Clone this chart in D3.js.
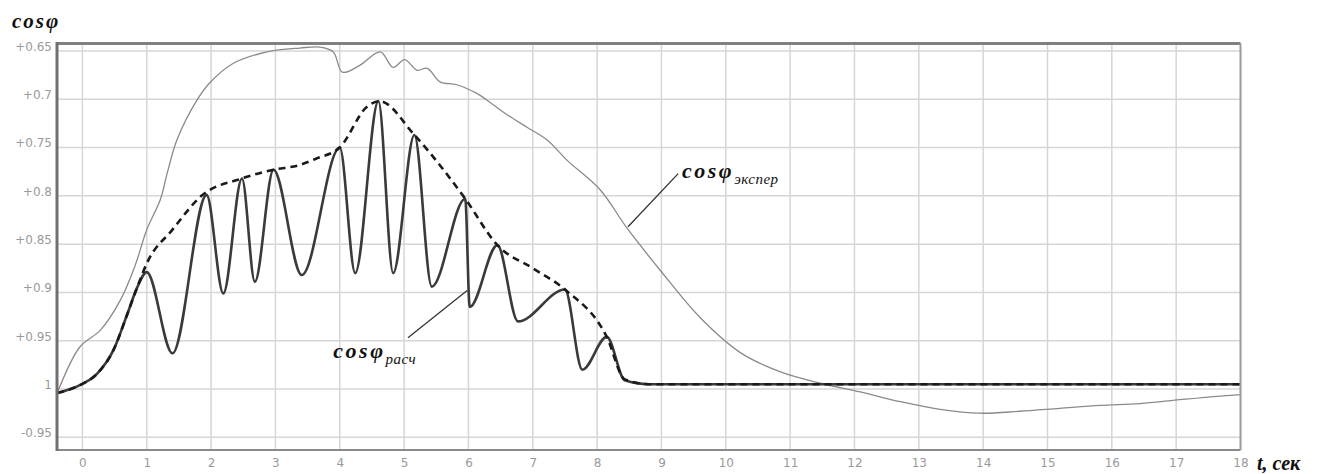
<!DOCTYPE html>
<html>
<head>
<meta charset="utf-8">
<script src="https://cdn.jsdelivr.net/npm/d3@7/dist/d3.min.js"></script>
<style>
  html, body { margin: 0; padding: 0; background: #fff; }
  svg { display: block; }
</style>
</head>
<body>
<svg id="chart" width="1324" height="474"></svg>
<script>
// ---- data (t in seconds, cosφ value; values > 1 are the leading side, shown as "-0.95") ----
const xTicks = [0,1,2,3,4,5,6,7,8,9,10,11,12,13,14,15,16,17,18];
const yTicks = [0.65,0.7,0.75,0.8,0.85,0.9,0.95,1.0,1.05];

const expT = [-0.39,-0.04,0.28,0.59,0.82,1.0,1.21,1.32,1.47,1.78,1.98,2.34,2.87,3.38,3.69,3.90,4.04,4.31,4.63,4.83,5.01,5.20,5.36,5.56,5.82,6.13,6.29,6.60,6.91,7.22,7.53,8.05,8.46,8.98,9.60,10.22,10.84,11.47,12.09,12.71,13.33,13.95,14.57,15.19,15.82,16.44,17.06,17.94,18.0];
const expV = [1.004,0.9565,0.939,0.908,0.872,0.835,0.804,0.776,0.742,0.701,0.683,0.663,0.651,0.647,0.646,0.651,0.672,0.665,0.651,0.667,0.659,0.670,0.668,0.682,0.685,0.694,0.701,0.716,0.729,0.742,0.763,0.794,0.833,0.877,0.926,0.962,0.982,0.994,1.003,1.013,1.021,1.025,1.023,1.020,1.017,1.015,1.011,1.006,1.006];

const calcT = [-0.39,-0.04,0.23,0.48,0.70,0.85,1.0,1.40,1.93,2.19,2.48,2.68,2.97,3.41,4.0,4.24,4.6,4.83,5.16,5.43,5.95,6.02,6.45,6.77,7.5,7.77,8.15,8.43,8.8,9.5,18];
const calcV = [1.004,0.996,0.984,0.960,0.922,0.895,0.879,0.963,0.799,0.901,0.782,0.889,0.773,0.882,0.750,0.880,0.702,0.880,0.737,0.894,0.803,0.915,0.851,0.930,0.897,0.980,0.946,0.991,0.995,0.995,0.995];

const envT = [-0.39,-0.04,0.23,0.48,0.70,0.85,1.0,1.4,1.85,2.48,2.97,3.38,3.65,4.0,4.42,4.62,5.16,5.95,6.45,7.0,7.5,8.15,8.43,8.8,18];
const envV = [1.004,0.996,0.984,0.960,0.922,0.895,0.870,0.835,0.800,0.782,0.773,0.768,0.761,0.750,0.708,0.702,0.737,0.803,0.851,0.875,0.897,0.946,0.990,0.995,0.995];

// ---- scales ----
const x = d3.scaleLinear().domain([-0.395, 18]).range([57, 1240.5]);
const y = d3.scaleLinear().domain([0.6423, 1.0631]).range([43.5, 450]);

const svg = d3.select("#chart");
const f2 = d3.format(".2~f");
const fmtY = v => Math.abs(v - 1) < 1e-9 ? "1" : (v < 1 ? "+" + f2(v) : "-" + f2(2 - v));

// grid
svg.append("g").selectAll("line").data(xTicks.filter(t => t < 18)).join("line")
  .attr("x1", d => x(d)).attr("x2", d => x(d)).attr("y1", y.range()[0]).attr("y2", y.range()[1])
  .attr("stroke", "#d6d6d6").attr("stroke-width", 1.5);
svg.append("g").selectAll("line").data(yTicks).join("line")
  .attr("x1", x.range()[0]).attr("x2", x.range()[1]).attr("y1", d => y(d)).attr("y2", d => y(d))
  .attr("stroke", "#d6d6d6").attr("stroke-width", 1.5);

// axes via d3
const xAxis = d3.axisBottom(x).tickValues(xTicks).tickSize(0).tickPadding(8).tickFormat(d3.format("d"));
const gx = svg.append("g").attr("transform", `translate(0,${y.range()[1]})`).call(xAxis);
gx.select(".domain").remove();
gx.selectAll("text").attr("fill", "#9a9a9a").style("font", "12px 'DejaVu Sans'");

const yAxis = d3.axisLeft(y).tickValues(yTicks).tickSize(0).tickPadding(5).tickFormat(fmtY);
const gy = svg.append("g").attr("transform", `translate(${x.range()[0]},0)`).call(yAxis);
gy.select(".domain").remove();
gy.selectAll("text").attr("fill", "#9a9a9a").attr("dy", "-0.05em").style("font", "12px 'DejaVu Sans'");

// lines
const line = d3.line().x(d => x(d[0])).y(d => y(d[1]));
const expData = expT.map((t, i) => [t, expV[i]]);
const calcData = calcT.map((t, i) => [t, calcV[i]]);
const envData = envT.map((t, i) => [t, envV[i]]);

svg.append("path").datum(expData)
  .attr("d", line.curve(d3.curveCatmullRom.alpha(0.5)))
  .attr("fill", "none").attr("stroke", "#8a8a8a").attr("stroke-width", 1.3);

svg.append("path").datum(calcData)
  .attr("d", line.curve(d3.curveMonotoneX))
  .attr("fill", "none").attr("stroke", "#3a3a3a").attr("stroke-width", 2.6);

svg.append("path").datum(envData)
  .attr("d", line.curve(d3.curveMonotoneX))
  .attr("fill", "none").attr("stroke", "#1a1a1a").attr("stroke-width", 2.6)
  .attr("stroke-dasharray", "7,5");

// frame
const [x0, x1] = x.range(), [y0, y1] = y.range();
svg.append("line").attr("x1", x0).attr("x2", x1).attr("y1", y0).attr("y2", y0).attr("stroke", "#808080").attr("stroke-width", 3);
svg.append("line").attr("x1", x0).attr("x2", x1).attr("y1", y1).attr("y2", y1).attr("stroke", "#8a8a8a").attr("stroke-width", 2);
svg.append("line").attr("x1", x1).attr("x2", x1).attr("y1", y0).attr("y2", y1).attr("stroke", "#9a9a9a").attr("stroke-width", 2);
svg.append("line").attr("x1", x0).attr("x2", x0).attr("y1", y0 - 1.5).attr("y2", y1 + 1).attr("stroke", "#707070").attr("stroke-width", 3);

// annotations
const serif = "'Liberation Serif', 'DejaVu Serif', serif";
function label(tx, vy, main, sub) {
  const t = svg.append("text").attr("x", x(tx)).attr("y", y(vy))
    .style("font-family", serif).style("font-style", "italic").attr("fill", "#111");
  t.append("tspan").text(main).style("font-weight", "bold").style("font-size", "22px").style("letter-spacing", "2.5px");
  if (sub) t.append("tspan").text(sub).attr("dy", 6).style("font-size", "15px").style("letter-spacing", "0.5px");
}
// leader lines
svg.append("line").attr("x1", x(8.48)).attr("y1", y(0.832)).attr("x2", x(9.26)).attr("y2", y(0.777))
  .attr("stroke", "#333").attr("stroke-width", 1.3);
svg.append("line").attr("x1", x(5.06)).attr("y1", y(0.947)).attr("x2", x(5.98)).attr("y2", y(0.898))
  .attr("stroke", "#333").attr("stroke-width", 1.3);

label(9.32, 0.782, "cosφ", "экспер");
label(3.9, 0.968, "cosφ", "расч");

// axis titles
svg.append("text").attr("x", 12).attr("y", 28).text("cosφ")
  .style("font-family", serif).style("font-style", "italic").style("font-weight", "bold")
  .style("font-size", "21px").style("letter-spacing", "2px").attr("fill", "#111");
svg.append("text").attr("x", 1257).attr("y", 470).text("t, сек")
  .style("font-family", serif).style("font-style", "italic").style("font-weight", "bold")
  .style("font-size", "20px").attr("fill", "#111");
</script>
</body>
</html>
